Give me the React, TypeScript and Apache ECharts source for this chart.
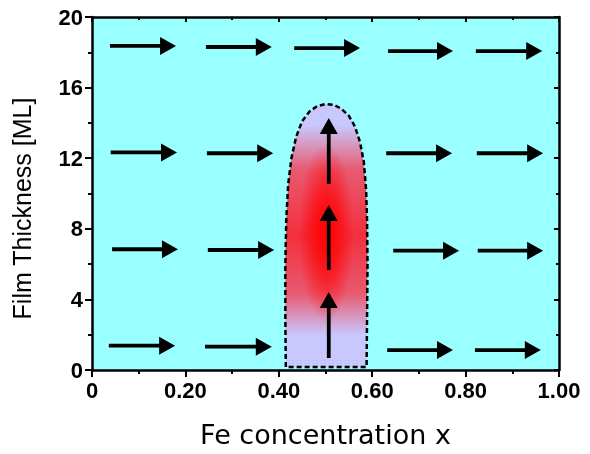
import React, { useEffect, useRef } from 'react';
import * as echarts from 'echarts';

// Arrow data: tail (x1,y1) -> tip (x2,y2)
const arrowX1 = [0.0385, 0.244, 0.433, 0.634, 0.822, 0.040, 0.246, 0.630, 0.824, 0.043, 0.248, 0.645, 0.826, 0.036, 0.242, 0.632, 0.820, 0.507, 0.507, 0.507];
const arrowY1 = [18.36, 18.30, 18.24, 18.07, 18.07, 12.33, 12.28, 12.28, 12.28, 6.84, 6.80, 6.76, 6.76, 1.38, 1.32, 1.13, 1.13, 0.68, 5.67, 10.54];
const arrowX2 = [0.180, 0.385, 0.574, 0.773, 0.964, 0.182, 0.388, 0.771, 0.966, 0.184, 0.390, 0.786, 0.966, 0.178, 0.385, 0.773, 0.961, 0.507, 0.507, 0.507];
const arrowY2 = [18.36, 18.30, 18.24, 18.07, 18.07, 12.33, 12.28, 12.28, 12.28, 6.84, 6.80, 6.76, 6.76, 1.38, 1.32, 1.13, 1.13, 4.42, 9.35, 14.28];

// Outline of the central (perpendicular) region
const regionX = [0.415, 0.414, 0.414, 0.416, 0.420, 0.427, 0.437, 0.450, 0.466, 0.482, 0.500, 0.518, 0.534, 0.550, 0.563, 0.574, 0.582, 0.587, 0.589, 0.590, 0.589, 0.588];
const regionY = [0.17, 3.0, 6.0, 8.5, 10.5, 12.0, 13.2, 14.1, 14.65, 14.95, 15.07, 15.02, 14.8, 14.4, 13.8, 12.9, 11.8, 10.2, 8.5, 6.0, 3.0, 0.17];

const xMin = 0, xMax = 1, xStep = 0.2;
const yMin = 0, yMax = 20, yStep = 4;

export default function App() {
  const ref = useRef<HTMLDivElement>(null);
  useEffect(() => {
    const chart = echarts.init(ref.current!, null, { renderer: 'svg' });
    const black = '#000';
    const baseAxis = {
      type: 'value',
      splitLine: { show: false },
      axisLine: { show: true, onZero: false, lineStyle: { color: black, width: 2.5 } },
    };
    const arrowData = arrowX1.map((x, i) => [x, arrowY1[i], arrowX2[i], arrowY2[i]]);
    const option: any = {
      animation: false,
      grid: { left: 92, right: 31, top: 17, bottom: 84, show: true, backgroundColor: '#99ffff', borderWidth: 0 },
      xAxis: [
        {
          ...baseAxis, min: xMin, max: xMax, interval: xStep, position: 'bottom',
          axisTick: { length: 7, lineStyle: { color: black, width: 2 } },
          minorTick: { show: true, splitNumber: 2, length: 4, lineStyle: { color: black, width: 2 } },
          axisLabel: {
            margin: 9, color: black, fontSize: 22, fontWeight: 'bold', fontFamily: 'Liberation Sans',
            formatter: (v: number) => (v === 0 ? '0' : v.toFixed(2)),
          },
          name: 'Fe concentration x', nameLocation: 'middle', nameGap: 51,
          nameTextStyle: { fontSize: 27, fontFamily: 'DejaVu Sans', color: black },
        },
        {
          ...baseAxis, min: xMin, max: xMax, interval: xStep, position: 'top',
          axisTick: { inside: true, length: 5, lineStyle: { color: black, width: 2 } },
          minorTick: { show: true, splitNumber: 2, length: 3, lineStyle: { color: black, width: 2 } },
          axisLabel: { show: false },
        },
      ],
      yAxis: [
        {
          ...baseAxis, min: yMin, max: yMax, interval: yStep, position: 'left',
          axisTick: { length: 7, lineStyle: { color: black, width: 2 } },
          minorTick: { show: true, splitNumber: 2, length: 4, lineStyle: { color: black, width: 2 } },
          axisLabel: { margin: 9, color: black, fontSize: 22, fontWeight: 'bold', fontFamily: 'Liberation Sans' },
          name: 'Film Thickness [ML]', nameLocation: 'middle', nameGap: 58, nameRotate: 90,
          nameTextStyle: { fontSize: 25, fontFamily: 'Liberation Sans', color: black, padding: [0, 30, 0, 0] },
        },
        {
          ...baseAxis, min: yMin, max: yMax, interval: yStep, position: 'right',
          axisTick: { inside: true, length: 5, lineStyle: { color: black, width: 2 } },
          minorTick: { show: true, splitNumber: 2, length: 3, lineStyle: { color: black, width: 2 } },
          axisLabel: { show: false },
        },
      ],
      series: [
        {
          type: 'custom',
          xAxisIndex: 0, yAxisIndex: 0,
          data: [[0.5, 7.5]],
          clip: false,
          renderItem: (params: any, api: any) => {
            const pts = regionX.map((x, i) => api.coord([x, regionY[i]]));
            return {
              type: 'group',
              children: [
                {
                  type: 'polygon',
                  shape: { points: pts },
                  style: {
                    fill: new echarts.graphic.LinearGradient(0, 0, 0, 1, [
                      { offset: 0, color: '#c8c8ff' },
                      { offset: 0.08, color: '#c8c8ff' },
                      { offset: 0.25, color: '#e85a70' },
                      { offset: 0.5, color: '#f2303e' },
                      { offset: 0.72, color: '#e85a70' },
                      { offset: 0.88, color: '#c8c8ff' },
                      { offset: 1, color: '#c8c8ff' },
                    ]),
                    stroke: 'none',
                  },
                },
                {
                  type: 'polygon',
                  shape: { points: pts },
                  style: {
                    fill: new echarts.graphic.RadialGradient(0.5, 0.49, 0.34, [
                      { offset: 0, color: 'rgba(255,0,0,1)' },
                      { offset: 0.45, color: 'rgba(255,0,0,0.65)' },
                      { offset: 1, color: 'rgba(255,0,0,0)' },
                    ]),
                    stroke: 'none',
                  },
                },
                {
                  type: 'polygon',
                  shape: { points: pts },
                  style: { fill: 'none', stroke: black, lineWidth: 2.5, lineDash: [5, 3] },
                },
              ],
            };
          },
        },
        {
          type: 'custom',
          xAxisIndex: 0, yAxisIndex: 0,
          data: arrowData,
          encode: { x: [0, 2], y: [1, 3] },
          clip: false,
          renderItem: (params: any, api: any) => {
            const p1 = api.coord([api.value(0), api.value(1)]);
            const p2 = api.coord([api.value(2), api.value(3)]);
            const dx = p2[0] - p1[0], dy = p2[1] - p1[1];
            const len = Math.sqrt(dx * dx + dy * dy) || 1;
            const ux = dx / len, uy = dy / len;
            const nx = -uy, ny = ux;
            const headLen = 16, halfW = 9;
            const bx = p2[0] - ux * headLen, by = p2[1] - uy * headLen;
            return {
              type: 'group',
              children: [
                {
                  type: 'line',
                  shape: { x1: p1[0], y1: p1[1], x2: bx + ux * 2, y2: by + uy * 2 },
                  style: { stroke: black, lineWidth: 3.8 },
                },
                {
                  type: 'polygon',
                  shape: { points: [[p2[0], p2[1]], [bx + nx * halfW, by + ny * halfW], [bx - nx * halfW, by - ny * halfW]] },
                  style: { fill: black, stroke: 'none' },
                },
              ],
            };
          },
        },
      ],
    };
    chart.setOption(option);
    return () => chart.dispose();
  }, []);
  return <div ref={ref} style={{ position: 'fixed', left: 0, top: 0, width: 590, height: 454 }} />;
}
